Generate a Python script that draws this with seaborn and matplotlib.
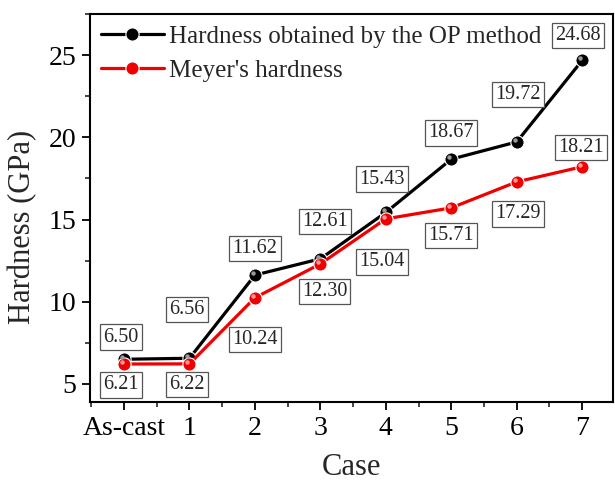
import matplotlib
matplotlib.use("Agg")
import matplotlib.pyplot as plt
import matplotlib.transforms as mtransforms
import seaborn as sns
import pandas as pd
from matplotlib.ticker import MultipleLocator, AutoMinorLocator

cases = ["As-cast", "1", "2", "3", "4", "5", "6", "7"]
op_hardness = [6.50, 6.56, 11.62, 12.61, 15.43, 18.67, 19.72, 24.68]
meyer_hardness = [6.21, 6.22, 10.24, 12.30, 15.04, 15.71, 17.29, 18.21]
series_names = ["Hardness obtained by the OP method", "Meyer's hardness"]

# label offsets in points (dx, dy) relative to each marker
op_label_offsets = [(-2, 16), (-2, 35), (0, 19), (3, 27), (-3, 24), (0, 19), (1, 34), (-3, 18)]
meyer_label_offsets = [(-2, -15), (-2, -15), (0, -30), (3, -20), (-3, -31), (0, -20), (1, -23), (-1, 14)]

sns.set_theme(style="ticks")
plt.rcParams["font.family"] = ["Liberation Serif", "DejaVu Serif"]

idx = list(range(len(cases)))
df = pd.DataFrame({
    "pos": idx * 2,
    "value": op_hardness + meyer_hardness,
    "series": [series_names[0]] * len(cases) + [series_names[1]] * len(cases),
})

fig = plt.figure(figsize=(6.15, 4.83), dpi=100)
ax = fig.add_axes([0.1463, 0.1677, 0.8504, 0.8033])

sns.lineplot(data=df, x="pos", y="value", hue="series", style="series",
             markers={series_names[0]: "o", series_names[1]: "o"}, dashes=False,
             palette={series_names[0]: "black", series_names[1]: "#f00000"},
             linewidth=2.3, markersize=9.5, markeredgewidth=0.8, ax=ax)

# glossy highlight on the spheres
shift = mtransforms.ScaledTranslation(-1.6 / 72, 1.6 / 72, fig.dpi_scale_trans)
for vals, hl in ((op_hardness, "#9a9a9a"), (meyer_hardness, "#ff9a9a")):
    ax.plot(idx, vals, linestyle="none", marker="o", markersize=3.2,
            markerfacecolor=hl, markeredgewidth=0, transform=ax.transData + shift)

box = dict(boxstyle="square,pad=0.16", facecolor="white", edgecolor="#555555", linewidth=0.9)
for vals, offs in ((op_hardness, op_label_offsets), (meyer_hardness, meyer_label_offsets)):
    for i, (v, (dx, dy)) in enumerate(zip(vals, offs)):
        ax.annotate(f"{v:.2f}", xy=(i, v), xytext=(dx, dy), textcoords="offset points",
                    ha="center", va="center", fontsize=14.5, bbox=box)

ax.set_xlim(-0.52, 7.47)
ax.set_ylim(3.9, 27.5)
ax.set_xticks(idx)
ax.set_xticklabels(cases)
ax.xaxis.set_minor_locator(AutoMinorLocator(2))
ax.yaxis.set_major_locator(MultipleLocator(5))
ax.yaxis.set_minor_locator(MultipleLocator(2.5))
ax.tick_params(axis="both", which="major", direction="out", length=6, width=1.3,
               labelsize=20, colors="black", pad=4)
ax.tick_params(axis="both", which="minor", direction="out", length=3.5, width=1.2)
for s in ax.spines.values():
    s.set_linewidth(1.5)
    s.set_color("black")

ax.set_xlabel("Case", fontsize=22, labelpad=9)
ax.set_ylabel("Hardness (GPa)", fontsize=22)
ax.yaxis.set_label_coords(-0.1, 0.45)

leg = ax.legend(loc="upper left", frameon=False, fontsize=18, handlelength=2.5,
                handletextpad=0.2, borderaxespad=0.0, borderpad=0.45, labelspacing=0.45)

fig.savefig("out.png", dpi=100)
